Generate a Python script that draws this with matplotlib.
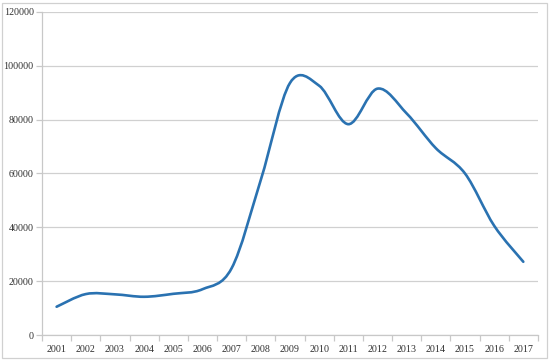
import matplotlib
matplotlib.use("Agg")
import matplotlib.pyplot as plt
from matplotlib.path import Path
from matplotlib.patches import PathPatch, Rectangle
import numpy as np

years = ["2001", "2002", "2003", "2004", "2005", "2006", "2007", "2008", "2009",
         "2010", "2011", "2012", "2013", "2014", "2015", "2016", "2017"]
values = [10500, 15200, 15100, 14200, 15300, 17000, 24800, 57600, 93600,
          92600, 78300, 91500, 82300, 69400, 60000, 40600, 27200]
yticks = [0, 20000, 40000, 60000, 80000, 100000, 120000]

plt.rcParams['font.family'] = ['Liberation Serif', 'DejaVu Serif']

fig = plt.figure(figsize=(5.5, 3.61), dpi=100)
ax = fig.add_axes([0.0764, 0.072, 0.9016, 0.895])

x = np.arange(len(years), dtype=float)
y = np.array(values, dtype=float)

# Excel-style smoothed line: cubic Bezier segments (Catmull-Rom control points)
verts = [(x[0], y[0])]
codes = [Path.MOVETO]
n = len(x)
for i in range(n - 1):
    p0 = (x[i - 1], y[i - 1]) if i > 0 else (x[i], y[i])
    p1 = (x[i], y[i])
    p2 = (x[i + 1], y[i + 1])
    p3 = (x[i + 2], y[i + 2]) if i + 2 < n else (x[i + 1], y[i + 1])
    c1 = (p1[0] + (p2[0] - p0[0]) / 6, p1[1] + (p2[1] - p0[1]) / 6)
    c2 = (p2[0] - (p3[0] - p1[0]) / 6, p2[1] - (p3[1] - p1[1]) / 6)
    verts += [c1, c2, p2]
    codes += [Path.CURVE4] * 3
ax.add_patch(PathPatch(Path(verts, codes), facecolor='none', edgecolor='#2a72b1',
                       linewidth=1.9, capstyle='round', joinstyle='round', zorder=3))

ax.set_xlim(-0.5, len(years) - 0.5)
ax.set_ylim(0, 120000)
ax.set_yticks(yticks)
ax.set_yticklabels([str(v) for v in yticks])
ax.set_xticks(x)
ax.set_xticklabels(years)
ax.set_xticks(np.arange(-0.5, len(years), 1.0), minor=True)

ax.grid(axis='y', color='#d0d0d0', linewidth=0.9, zorder=0)
ax.set_axisbelow(True)
for s in ['top', 'right']:
    ax.spines[s].set_visible(False)
for s in ['left', 'bottom']:
    ax.spines[s].set_color('#c8c8c8')
    ax.spines[s].set_linewidth(0.9)

ax.tick_params(axis='x', which='major', length=0, pad=7, labelsize=7.2, labelcolor='#303030')
ax.tick_params(axis='x', which='minor', length=4, color='#c8c8c8', width=0.9)
ax.tick_params(axis='y', length=4, color='#c8c8c8', width=0.9, pad=2, labelsize=7.2,
               labelcolor='#303030')

fig.patches.append(Rectangle((2 / 550, 3 / 361), 545 / 550, 355 / 361, transform=fig.transFigure,
                             fill=False, edgecolor='#d0d0d0', linewidth=0.9))

fig.savefig("out.png", dpi=100)
